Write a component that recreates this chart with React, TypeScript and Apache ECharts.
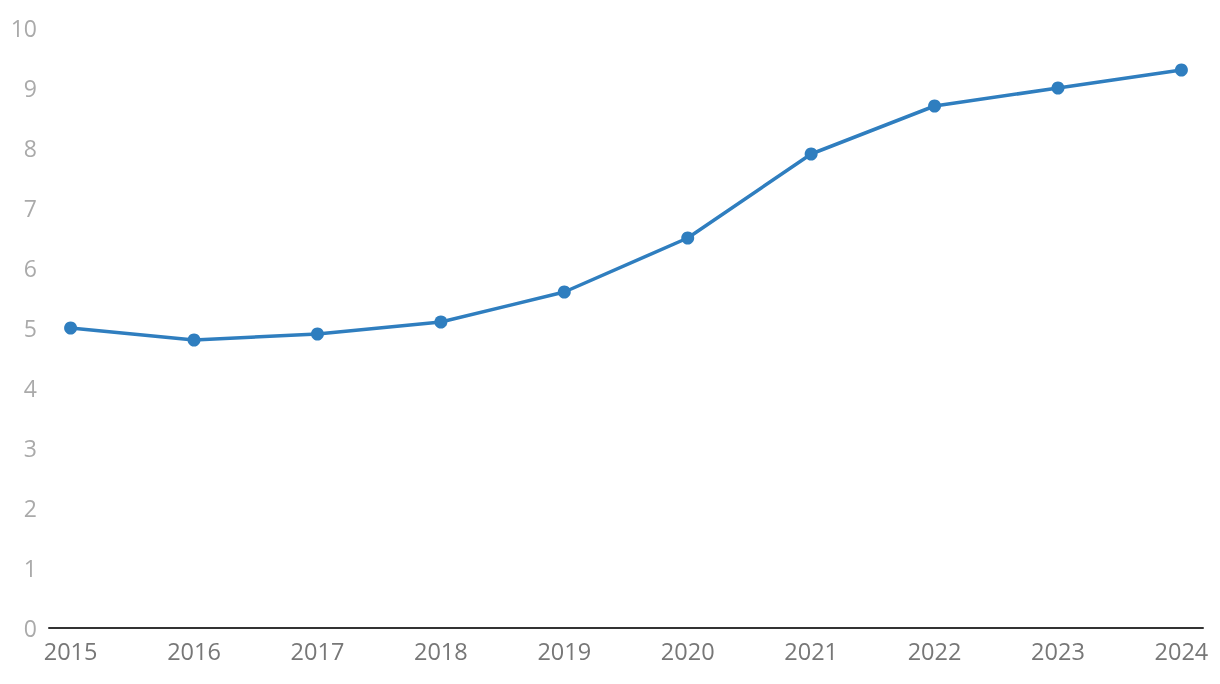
import React, { useEffect, useRef } from "react";
import * as echarts from "echarts";

const years = [2015, 2016, 2017, 2018, 2019, 2020, 2021, 2022, 2023, 2024];
const values = [5.0, 4.8, 4.9, 5.1, 5.6, 6.5, 7.9, 8.7, 9.0, 9.3];
const yTicks = [0, 1, 2, 3, 4, 5, 6, 7, 8, 9, 10];

export default function App() {
  const ref = useRef<HTMLDivElement>(null);
  useEffect(() => {
    if (!ref.current) return;
    const chart = echarts.init(ref.current, undefined, { renderer: "svg" });
    const font = "'Open Sans', sans-serif";
    chart.setOption({
      animation: false,
      grid: { left: 49, right: 17, top: 28, bottom: 56, containLabel: false },
      xAxis: {
        type: "value",
        min: years[0] - 0.175,
        max: years[years.length - 1] + 0.175,
        splitLine: { show: false },
        axisLine: { show: true, lineStyle: { color: "#333", width: 2 } },
        axisTick: { show: false },
        axisLabel: {
          customValues: years,
          formatter: (v: number) => String(v),
          color: "#777",
          fontSize: 23.5,
          fontFamily: font,
          margin: 11,
        },
      },
      yAxis: {
        type: "value",
        min: 0,
        max: 10,
        interval: 1,
        splitLine: { show: false },
        axisLine: { show: false },
        axisTick: { show: false },
        axisLabel: {
          customValues: yTicks,
          color: "#aaa",
          fontSize: 23,
          fontFamily: font,
          margin: 12,
        },
      },
      series: [
        {
          type: "line",
          data: years.map((y, i) => [y, values[i]]),
          symbol: "circle",
          symbolSize: 13,
          itemStyle: { color: "#2f7ebf" },
          lineStyle: { color: "#2f7ebf", width: 3.5 },
        },
      ],
    });
    return () => chart.dispose();
  }, []);
  return (
    <div
      ref={ref}
      style={{ position: "fixed", left: 0, top: 0, width: 1220, height: 684 }}
    />
  );
}
